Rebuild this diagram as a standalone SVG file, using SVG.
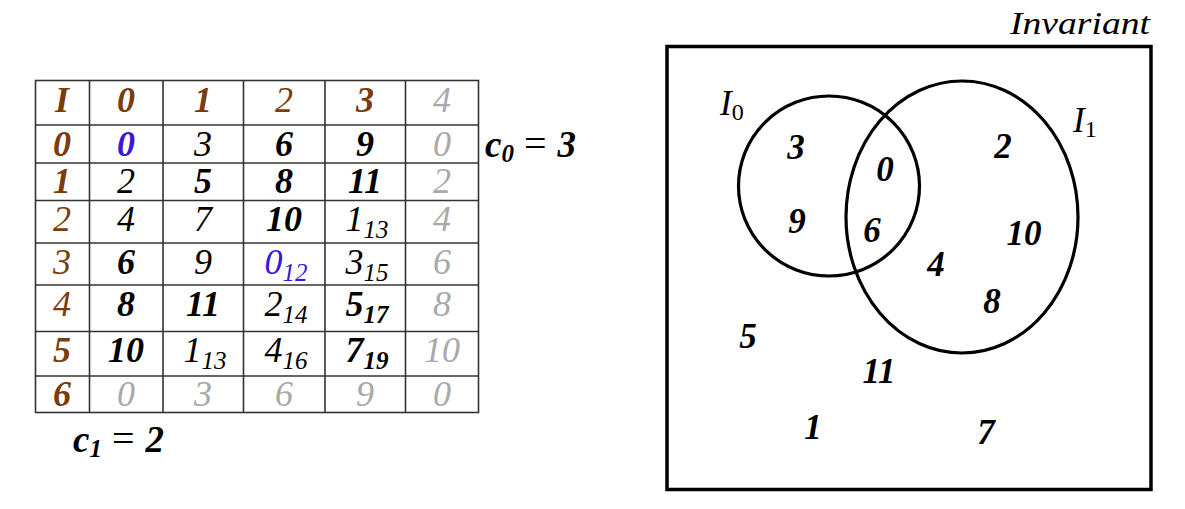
<svg xmlns="http://www.w3.org/2000/svg" width="1185" height="509" viewBox="0 0 1185 509">
<style>
.t{font-family:"Liberation Serif","DejaVu Serif",serif;font-style:italic;font-size:36px;text-anchor:middle}
.b{font-weight:bold}
.br{fill:#7a3c0c}
.bl{fill:#3a17d4}
.gr{fill:#a9a9a9}
.k{fill:#000}
.sub{font-size:25px}
.grid{stroke:#333;stroke-width:1.6;fill:none}
.shape{stroke:#000;fill:none;stroke-width:3.5}
.vn{font-family:"Liberation Serif","DejaVu Serif",serif;font-style:italic;font-weight:bold;font-size:35px;text-anchor:middle;fill:#000}
.lb{font-family:"Liberation Serif","DejaVu Serif",serif;font-style:italic;fill:#000}
.up{font-style:normal}
</style>
<rect width="1185" height="509" fill="#fff"/>
<g id="table">
<g class="grid">
<rect x="35.5" y="80.5" width="443" height="332"/>
<line x1="89.5" y1="80.5" x2="89.5" y2="412.5"/>
<line x1="163" y1="80.5" x2="163" y2="412.5"/>
<line x1="243.5" y1="80.5" x2="243.5" y2="412.5"/>
<line x1="325" y1="80.5" x2="325" y2="412.5"/>
<line x1="405.5" y1="80.5" x2="405.5" y2="412.5"/>
<line x1="35.5" y1="125" x2="478.5" y2="125"/>
<line x1="35.5" y1="163" x2="478.5" y2="163"/>
<line x1="35.5" y1="200.5" x2="478.5" y2="200.5"/>
<line x1="35.5" y1="243" x2="478.5" y2="243"/>
<line x1="35.5" y1="285" x2="478.5" y2="285"/>
<line x1="35.5" y1="331.5" x2="478.5" y2="331.5"/>
<line x1="35.5" y1="376" x2="478.5" y2="376"/>
</g>
<g id="header">
<text class="t b br" x="62" y="112">I</text>
<text class="t b br" x="126" y="112">0</text>
<text class="t b br" x="203" y="112">1</text>
<text class="t br" x="284" y="112">2</text>
<text class="t b br" x="365" y="112">3</text>
<text class="t gr" x="442" y="112">4</text>
</g>
<g id="row0">
<text class="t b br" x="62" y="156">0</text>
<text class="t b bl" x="126" y="156">0</text>
<text class="t k" x="203" y="156">3</text>
<text class="t b k" x="284" y="156">6</text>
<text class="t b k" x="365" y="156">9</text>
<text class="t gr" x="442" y="156">0</text>
</g>
<g id="row1">
<text class="t b br" x="62" y="193">1</text>
<text class="t k" x="126" y="193">2</text>
<text class="t b k" x="203" y="193">5</text>
<text class="t b k" x="284" y="193">8</text>
<text class="t b k" x="365" y="193">11</text>
<text class="t gr" x="442" y="193">2</text>
</g>
<g id="row2">
<text class="t br" x="62" y="231">2</text>
<text class="t k" x="126" y="231">4</text>
<text class="t k" x="203" y="231">7</text>
<text class="t b k" x="284" y="231">10</text>
<text class="t k" x="367" y="231">1<tspan class="sub" dy="7">13</tspan></text>
<text class="t gr" x="442" y="231">4</text>
</g>
<g id="row3">
<text class="t br" x="62" y="274">3</text>
<text class="t b k" x="126" y="274">6</text>
<text class="t k" x="203" y="274">9</text>
<text class="t bl" x="286" y="274">0<tspan class="sub" dy="7">12</tspan></text>
<text class="t k" x="367" y="274">3<tspan class="sub" dy="7">15</tspan></text>
<text class="t gr" x="442" y="274">6</text>
</g>
<g id="row4">
<text class="t br" x="62" y="316">4</text>
<text class="t b k" x="126" y="316">8</text>
<text class="t b k" x="203" y="316">11</text>
<text class="t k" x="286" y="316">2<tspan class="sub" dy="7">14</tspan></text>
<text class="t b k" x="367" y="316">5<tspan class="sub" dy="7">17</tspan></text>
<text class="t gr" x="442" y="316">8</text>
</g>
<g id="row5">
<text class="t b br" x="62" y="362">5</text>
<text class="t b k" x="126" y="362">10</text>
<text class="t k" x="205" y="362">1<tspan class="sub" dy="7">13</tspan></text>
<text class="t k" x="286" y="362">4<tspan class="sub" dy="7">16</tspan></text>
<text class="t b k" x="367" y="362">7<tspan class="sub" dy="7">19</tspan></text>
<text class="t gr" x="442" y="362">10</text>
</g>
<g id="row6">
<text class="t b br" x="62" y="406">6</text>
<text class="t gr" x="126" y="406">0</text>
<text class="t gr" x="203" y="406">3</text>
<text class="t gr" x="284" y="406">6</text>
<text class="t gr" x="365" y="406">9</text>
<text class="t gr" x="442" y="406">0</text>
</g>
</g>
<g id="c0">
<text class="lb" x="485" y="157" font-size="37" font-weight="bold">c<tspan font-size="25" dy="5">0</tspan><tspan class="up" font-weight="normal" font-size="40" dy="-5" dx="10">=</tspan><tspan dx="11">3</tspan></text>
</g>
<g id="c1">
<text class="lb" x="73" y="452" font-size="37" font-weight="bold">c<tspan font-size="25" dy="5">1</tspan><tspan class="up" font-weight="normal" font-size="40" dy="-5" dx="10">=</tspan><tspan dx="11">2</tspan></text>
</g>
<g id="venn">
<g id="invariant">
<rect class="shape" x="667" y="46.5" width="484" height="443"/>
<text class="lb" x="1010" y="34" font-size="32" textLength="140" lengthAdjust="spacingAndGlyphs">Invariant</text>
</g>
<g id="I0">
<ellipse cx="829" cy="186" rx="90.5" ry="90" fill="none" stroke="#000" stroke-width="3.2"/>
<text class="lb" x="720" y="115" font-size="35">I<tspan class="up" font-size="24" dy="5">0</tspan></text>
</g>
<g id="I1">
<ellipse cx="962" cy="217" rx="116" ry="136" fill="none" stroke="#000" stroke-width="3.2"/>
<text class="lb" x="1073" y="132" font-size="35">I<tspan class="up" font-size="24" dy="5">1</tspan></text>
</g>
<g id="elements">
<text class="vn" x="796" y="159">3</text>
<text class="vn" x="1003" y="158">2</text>
<text class="vn" x="885" y="181">0</text>
<text class="vn" x="797" y="233">9</text>
<text class="vn" x="872" y="242">6</text>
<text class="vn" x="1024" y="245">10</text>
<text class="vn" x="936" y="276">4</text>
<text class="vn" x="992" y="313">8</text>
<text class="vn" x="748" y="348">5</text>
<text class="vn" x="879" y="383">11</text>
<text class="vn" x="813" y="439">1</text>
<text class="vn" x="986" y="444">7</text>
</g>
</g>
</svg>
